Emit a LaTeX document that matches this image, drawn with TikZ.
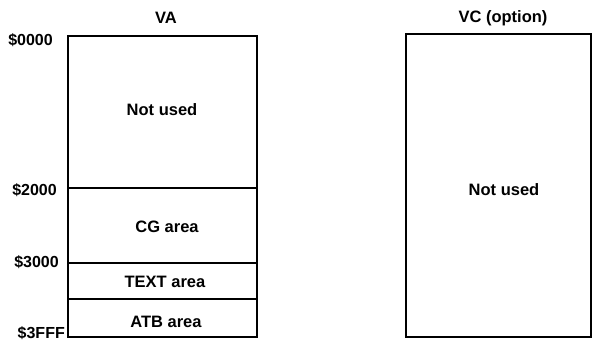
\documentclass[tikz,border=0pt]{standalone}
\usepackage{fontspec}
\setmainfont{Liberation Sans}
\begin{document}
\begin{tikzpicture}[x=1pt,y=-1pt,
  seg/.style={draw=black,line width=1.6pt,inner sep=0pt,outer sep=0pt},
  txt/.style={font=\fontsize{16.5}{20}\selectfont\bfseries,inner sep=0pt},
  addr/.style={font=\fontsize{16}{20}\selectfont\bfseries,inner sep=0pt,anchor=east}]
\useasboundingbox (0,0) rectangle (593,342);
% left column
\node[seg,minimum width=189pt,minimum height=152pt] (nu) at (162.5,112) {};
\node[seg,minimum width=189pt,minimum height=75pt] (cg) at (162.5,225.5) {};
\node[seg,minimum width=189pt,minimum height=36pt] (tx) at (162.5,281) {};
\node[seg,minimum width=189pt,minimum height=38pt] (atb) at (162.5,318) {};
\node[txt] (nut) at (162,110) {Not used};
\node[txt] (cgt) at (167,227) {CG area};
\node[txt] (txt) at (165,282) {TEXT area};
\node[txt] (atbt) at (166,322) {ATB area};
\node[txt] (va) at (166,18) {VA};
% addresses
\node[addr] (a0) at (53,40) {\$0000};
\node[addr] (a2) at (57,190) {\$2000};
\node[addr] (a3) at (59,262) {\$3000};
\node[addr] (a4) at (65,333) {\$3FFF};
% right column
\node[seg,minimum width=185pt,minimum height=303pt] (vc) at (498.5,185.5) {};
\node[txt] (vct) at (504,190) {Not used};
\node[txt] (vch) at (503,18) {VC (option)};
\end{tikzpicture}
\end{document}
